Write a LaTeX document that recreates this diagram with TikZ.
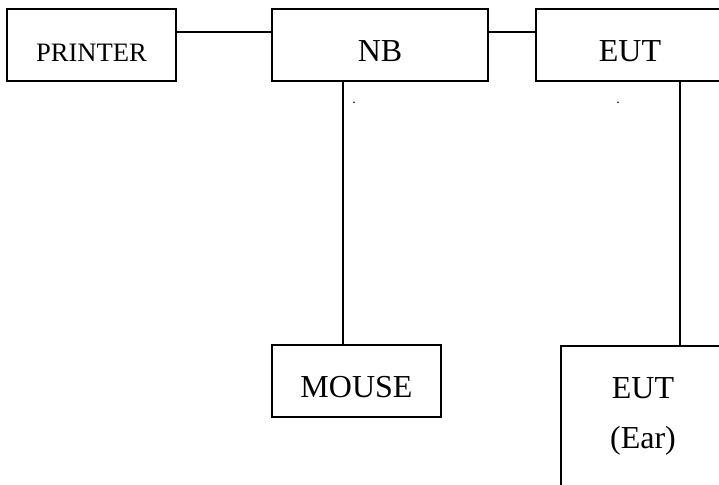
\documentclass[tikz,border=0pt]{standalone}
\usepackage{fontspec}
\setmainfont{Liberation Serif}
\usetikzlibrary{positioning}

\tikzset{
  unitbox/.style={draw, line width=0.9pt, inner sep=0pt, minimum height=36pt,
    text height=26.25pt, text depth=9.75pt, font=\fontsize{16pt}{19pt}\selectfont},
  link/.style={line width=0.9pt}
}

\begin{document}
\begin{tikzpicture}[x=0.5pt,y=-0.5pt]
  \useasboundingbox (0,0) rectangle (719,485);
  \clip (0,0) rectangle (719,485);

  % top row
  \node[unitbox, minimum width=84.5pt, font=\fontsize{13.3pt}{16pt}\selectfont] (printer) at (91.5,45) {PRINTER};
  \node[unitbox, minimum width=108pt] (nb) at (380,45) {NB};
  \node[unitbox, minimum width=94pt] (eut) at (630,45) {EUT};

  % bottom row
  \node[unitbox, minimum width=84.5pt] (mouse) at (356.5,381) {MOUSE};
  \node[draw, line width=0.9pt, minimum width=83pt, minimum height=80pt, anchor=north west] (eutear) at (560,345) {};
  \node[align=center, font=\fontsize{16pt}{19pt}\selectfont] (eartext) at (643,416) {EUT\\[6pt](Ear)};

  % small marks
  \node[font=\scriptsize, inner sep=0pt] (dotnb) at (354,103) {.};
  \node[font=\scriptsize, inner sep=0pt] (doteut) at (618,103) {.};

  % cables
  \draw[link] ([yshift=-12pt]printer.north east) -- ([yshift=-12pt]nb.north west);
  \draw[link] ([yshift=-12pt]nb.north east) -- ([yshift=-12pt]eut.north west);
  \draw[link] ([xshift=36pt]nb.south west) -- ([xshift=36pt]mouse.north west);
  \draw[link] ([xshift=72.5pt]eut.south west) -- ([xshift=72.5pt]eut.south west |- eutear.north);
\end{tikzpicture}
\end{document}
